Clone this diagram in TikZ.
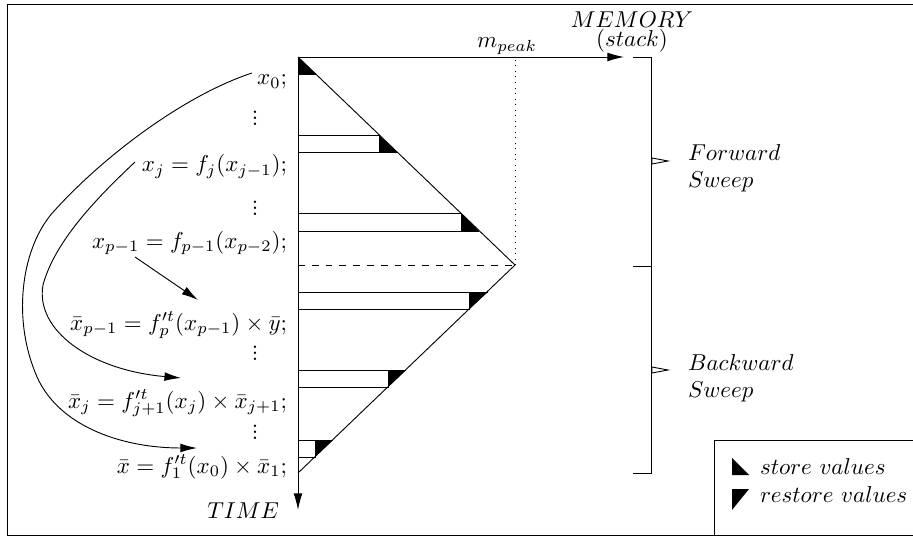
\documentclass[tikz,border=0pt]{standalone}
\usetikzlibrary{arrows.meta}
\newcommand{\mydots}{\vbox{\baselineskip=2.6pt\lineskiplimit=0pt\hbox{.}\hbox{.}\hbox{.}}}
\begin{document}
\begin{tikzpicture}[x=0.435pt,y=-0.435pt,
  tip/.style={-{Latex[length=7.2pt,width=3.8pt]}},
  lab/.style={inner sep=0pt,outer sep=0pt},
  stmt/.style={lab,anchor=base east},
  side/.style={lab,anchor=base west},
  blk/.style={fill=black}]
\useasboundingbox (0,0) rectangle (913,537);
% frame
\draw (913,4) -- (7.5,4) -- (7.5,535) -- (913,535);
% axes
\coordinate (O) at (298,57);
\coordinate (P) at (515,265);
\coordinate (B) at (298,473);
\coordinate (T) at (298,510);
\coordinate (M) at (624,57);
\draw[tip] (O) -- (T);
\draw[tip] (O) -- (M);
\draw (O) -- (P) -- (B);
\draw[dashed] (O |- P) -- (P);
\draw[dotted] (P) -- (P |- O);
% forward boxes (store)
\fill[blk] (298,57) -- (298,74) -- (316,74) -- cycle;
\draw (298,74) -- (316,74);
\draw (298,135) -- (379,135) -- (379,152) (298,152) -- (397,152);
\fill[blk] (379,135) -- (379,152) -- (397,152) -- cycle;
\draw (298,213) -- (461,213) -- (461,231) (298,231) -- (479,231);
\fill[blk] (461,213) -- (461,231) -- (479,231) -- cycle;
% backward boxes (restore)
\draw (298,292) -- (488,292) (469,292) -- (469,309) -- (298,309);
\fill[blk] (469,292) -- (488,292) -- (469,309) -- cycle;
\draw (298,370) -- (406,370) (388,370) -- (388,387) -- (298,387);
\fill[blk] (388,370) -- (406,370) -- (388,387) -- cycle;
\draw (298,440) -- (333,440) (315,440) -- (315,457) -- (298,457);
\fill[blk] (315,440) -- (333,440) -- (315,457) -- cycle;
% labels on axes
\node[lab,anchor=base] (mpk) at (507,48) {$m_{peak}$};
\node[lab,anchor=base] (mem) at (632,28) {$MEMORY$};
\node[lab,anchor=base] (stk) at (632,47) {$(stack)$};
\node[lab,anchor=base east] (time) at (279,518) {$TIME$};
% bracket
\draw (633,57) -- (651,57) -- (651,473) -- (633,473);
\draw (633,266) -- (651,266);
\draw (652,158) -- (668,161) -- (652,164) -- cycle;
\draw (652,367) -- (668,370) -- (652,373) -- cycle;
\node[side] (fw1) at (688,161) {$Forward$};
\node[side] (fw2) at (688,187) {$Sweep$};
\node[side] (bw1) at (688,370) {$Backward$};
\node[side] (bw2) at (688,397) {$Sweep$};
% legend
\draw (913,440) -- (714,440) -- (714,535);
\fill[blk] (732,458) -- (732,475) -- (749,475) -- cycle;
\node[side] (ls) at (760,474) {$store\ values$};
\fill[blk] (732,489) -- (749,489) -- (732,510) -- cycle;
\node[side] (lr) at (760,502) {$restore\ values$};
% statements
\node[stmt] (s0) at (287,85) {$x_0;$};
\node[lab] (d1) at (255,118) {\mydots};
\node[stmt] (sj) at (287,172) {$x_j=f_j(x_{j-1});$};
\node[lab] (d2) at (255,208) {\mydots};
\node[stmt] (sp) at (287,248) {$x_{p-1}=f_{p-1}(x_{p-2});$};
\node[stmt] (bp) at (287,330) {$\bar{x}_{p-1}=f^{\prime t}_{p}(x_{p-1})\times\bar{y};$};
\node[lab] (d3) at (255,353) {\mydots};
\node[stmt] (bj) at (287,408) {$\bar{x}_j=f^{\prime t}_{j+1}(x_j)\times\bar{x}_{j+1};$};
\node[lab] (d4) at (255,432) {\mydots};
\node[stmt] (b0) at (287,473) {$\bar{x}=f^{\prime t}_{1}(x_0)\times\bar{x}_1;$};
% connectors
\coordinate (c1a) at (252,73);
\coordinate (c1b) at (197,448);
\coordinate (c2a) at (135,162);
\coordinate (c2b) at (181,378);
\coordinate (c3a) at (135,257);
\coordinate (c3b) at (198,300);
\draw[tip] (c1a) .. controls (185,95) and (105,155) .. (55,210)
  .. controls (22,245) and (12,315) .. (35,372)
  .. controls (55,425) and (120,448) .. (c1b);
\draw[tip] (c2a) .. controls (100,195) and (55,240) .. (43,285)
  .. controls (35,330) and (90,370) .. (c2b);
\draw[tip] (c3a) -- (c3b);
\end{tikzpicture}
\end{document}
